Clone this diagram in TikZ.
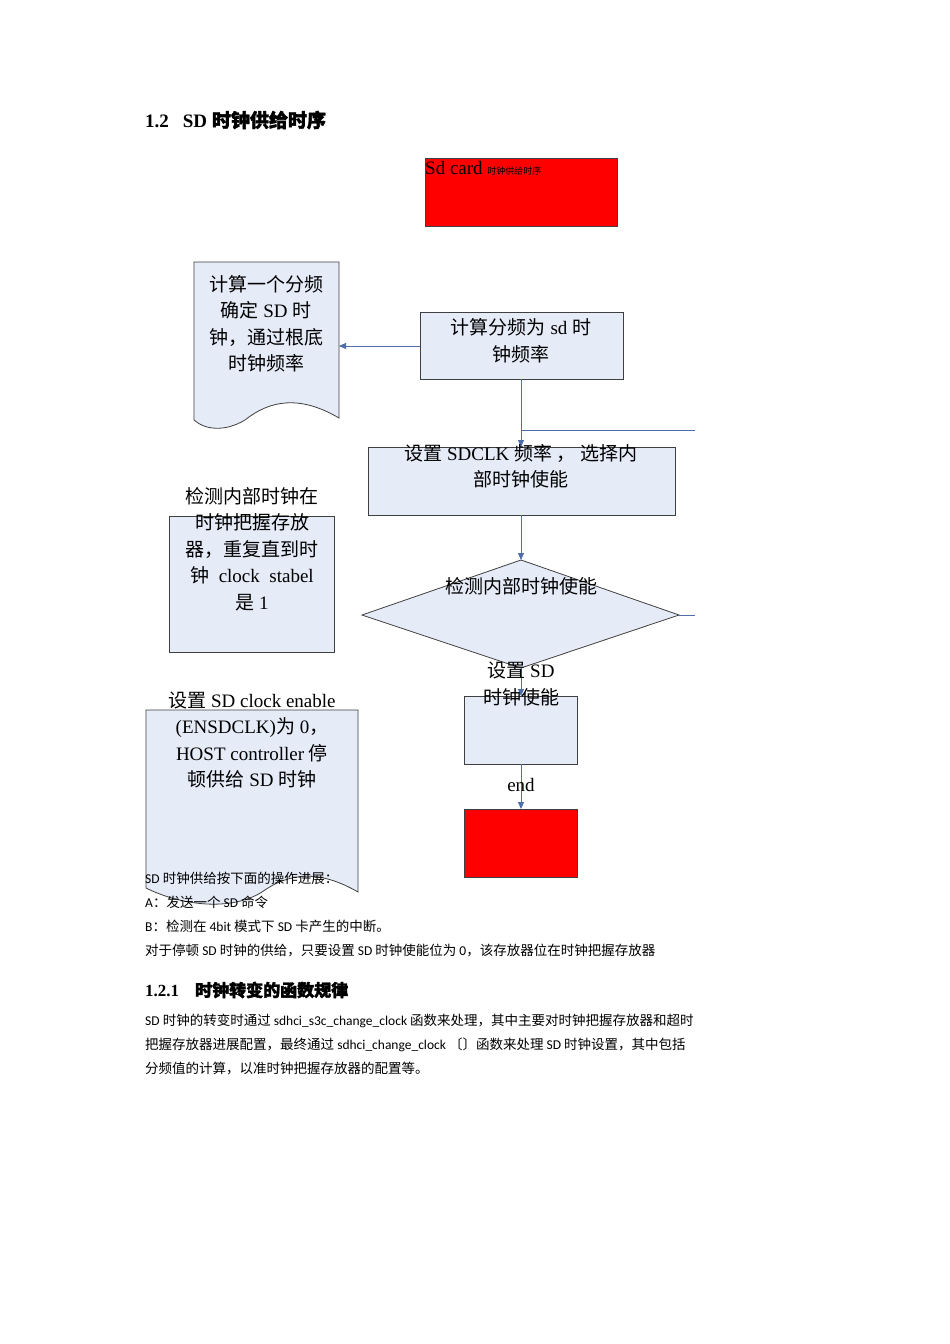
\documentclass[tikz,border=0pt]{standalone}
\usepackage{fontspec}
\setmainfont{Liberation Serif}
\newfontfamily\cjk{Noto Sans CJK SC}
\newfontfamily\cjkb{Noto Sans CJK SC}[FakeBold=2]
\newfontfamily\bodyfont{Carlito}
\newcommand{\zh}[1]{{\cjk #1}}
\usetikzlibrary{arrows.meta}
\definecolor{fillb}{RGB}{230,235,248}
\definecolor{edgeb}{RGB}{79,110,170}
\tikzset{
 box/.style={draw=black!75,fill=fillb,line width=0.8pt},
 redbox/.style={draw=black!75,fill=red,line width=0.8pt},
 conn/.style={draw=edgeb,line width=0.9pt},
 arr/.style={conn,-{Triangle[length=7pt,width=6pt]}},
 dtext/.style={font=\fontsize{19}{26.5}\selectfont,align=center,inner sep=0pt},
 btext/.style={font=\fontsize{13.5}{24}\bodyfont,anchor=west,inner sep=0pt},
}
\begin{document}
\begin{tikzpicture}[x=1pt,y=-1pt]
\useasboundingbox[fill=white] (0,0) rectangle (950,1344);
\node[anchor=west,inner sep=0pt,font=\fontsize{19}{22}\selectfont\bfseries] (h1) at (145,120) {1.2\hspace{14pt}SD {\cjkb 时钟供给时序}};
% red top box
\draw[redbox] (425,158) rectangle (617,226);
\node[anchor=north west,inner sep=0pt,font=\fontsize{19}{22}\selectfont] (rt) at (425,161) {Sd card {\fontsize{9}{10}\cjk 时钟供给时序}};
% document 1
\draw[box] (194,262) -- (339,262) -- (339,418) .. controls (300,395) and (270,400) .. (245,420) .. controls (225,432) and (205,430) .. (194,420) -- cycle;
\coordinate (doc1) at (339,346);
\node[dtext] (d1t) at (266,324) {\zh{计算一个分频}\\\zh{确定} SD \zh{时}\\\zh{钟，通过根底}\\\zh{时钟频率}};
% box 2
\draw[box] (420,312) rectangle (623,379);
\node[dtext] (b2) at (521,341) {\zh{计算分频为} sd \zh{时}\\\zh{钟频率}};
\coordinate (b2l) at (420,346);
\coordinate (b2b) at (521,379);
\draw[arr] (b2l) -- (doc1);
\coordinate (b3t) at (521,447);
\coordinate (j1) at (521,430);
\coordinate (j1e) at (695,430);
\draw[arr] (b2b) -- (b3t);
\draw[conn] (j1) -- (j1e);
% box 3
\draw[box] (368,447) rectangle (675,515);
\node[dtext] (b3) at (521,466) {\zh{设置} SDCLK \zh{频率} \zh{，} \zh{选择内}\\\zh{部时钟使能}};
\coordinate (b3b) at (521,515);
% diamond
\draw[box] (521,560) -- (679,615) -- (521,668) -- (362,615) -- cycle;
\coordinate (dt) at (521,560);
\coordinate (dr) at (679,615);
\coordinate (dre) at (695,615);
\coordinate (db) at (521,668);
\draw[arr] (b3b) -- (dt);
\draw[conn] (dr) -- (dre);
\node[dtext] (dtx) at (521,586) {\zh{检测内部时钟使能}};
% left box 2
\draw[box] (169,516) rectangle (334,652);
\node[dtext] (lb) at (252,549) {\zh{检测内部时钟在}\\\zh{时钟把握存放}\\\zh{器，重复直到时}\\\zh{钟}\ \ clock\ \ stabel\\\zh{是} 1};
% box 4
\draw[box] (464,696) rectangle (577,764);
\coordinate (b4t) at (521,696);
\coordinate (b4b) at (521,764);
\draw[arr] (db) -- (b4t);
\node[dtext] (b4) at (521,684) {\zh{设置} SD\\\zh{时钟使能}};
% end box
\draw[redbox] (464,809) rectangle (577,877);
\coordinate (e5t) at (521,809);
\draw[arr] (b4b) -- (e5t);
\node[dtext] (endt) at (521,785) {end};
% document 2
\draw[box] (146,710) -- (358,710) -- (358,892) .. controls (320,870) and (290,872) .. (262,892) .. controls (230,912) and (180,905) .. (146,888) -- cycle;
\node[dtext] (d2t) at (252,740) {\zh{设置} SD clock enable\\(ENSDCLK)\zh{为} 0\zh{，}\\HOST controller \zh{停}\\\zh{顿供给} SD \zh{时钟}};
% body text
\node[btext] (t1) at (145,878) {SD \zh{时钟供给按下面的操作进展：}};
\node[btext] (t2) at (145,902) {A\zh{：发送一个} SD \zh{命令}};
\node[btext] (t3) at (145,926) {B\zh{：检测在} 4bit \zh{模式下} SD \zh{卡产生的中断。}};
\node[btext] (t4) at (145,950) {\zh{对于停顿} SD \zh{时钟的供给，只要设置} SD \zh{时钟使能位为} 0\zh{，该存放器位在时钟把握存放器}};
\node[anchor=west,inner sep=0pt,font=\fontsize{17}{20}\selectfont\bfseries] (h2) at (145,990) {1.2.1\hspace{16pt}{\cjkb 时钟转变的函数规律}};
\node[btext] (p1) at (145,1021) {SD \zh{时钟的转变时通过} sdhci\_s3c\_change\_clock \zh{函数来处理，其中主要对时钟把握存放器和超时}};
\node[btext] (p2) at (145,1045) {\zh{把握存放器进展配置，最终通过} sdhci\_change\_clock \zh{〔〕函数来处理} SD \zh{时钟设置，其中包括}};
\node[btext] (p3) at (145,1069) {\zh{分频值的计算，以准时钟把握存放器的配置等。}};
\end{tikzpicture}
\end{document}
